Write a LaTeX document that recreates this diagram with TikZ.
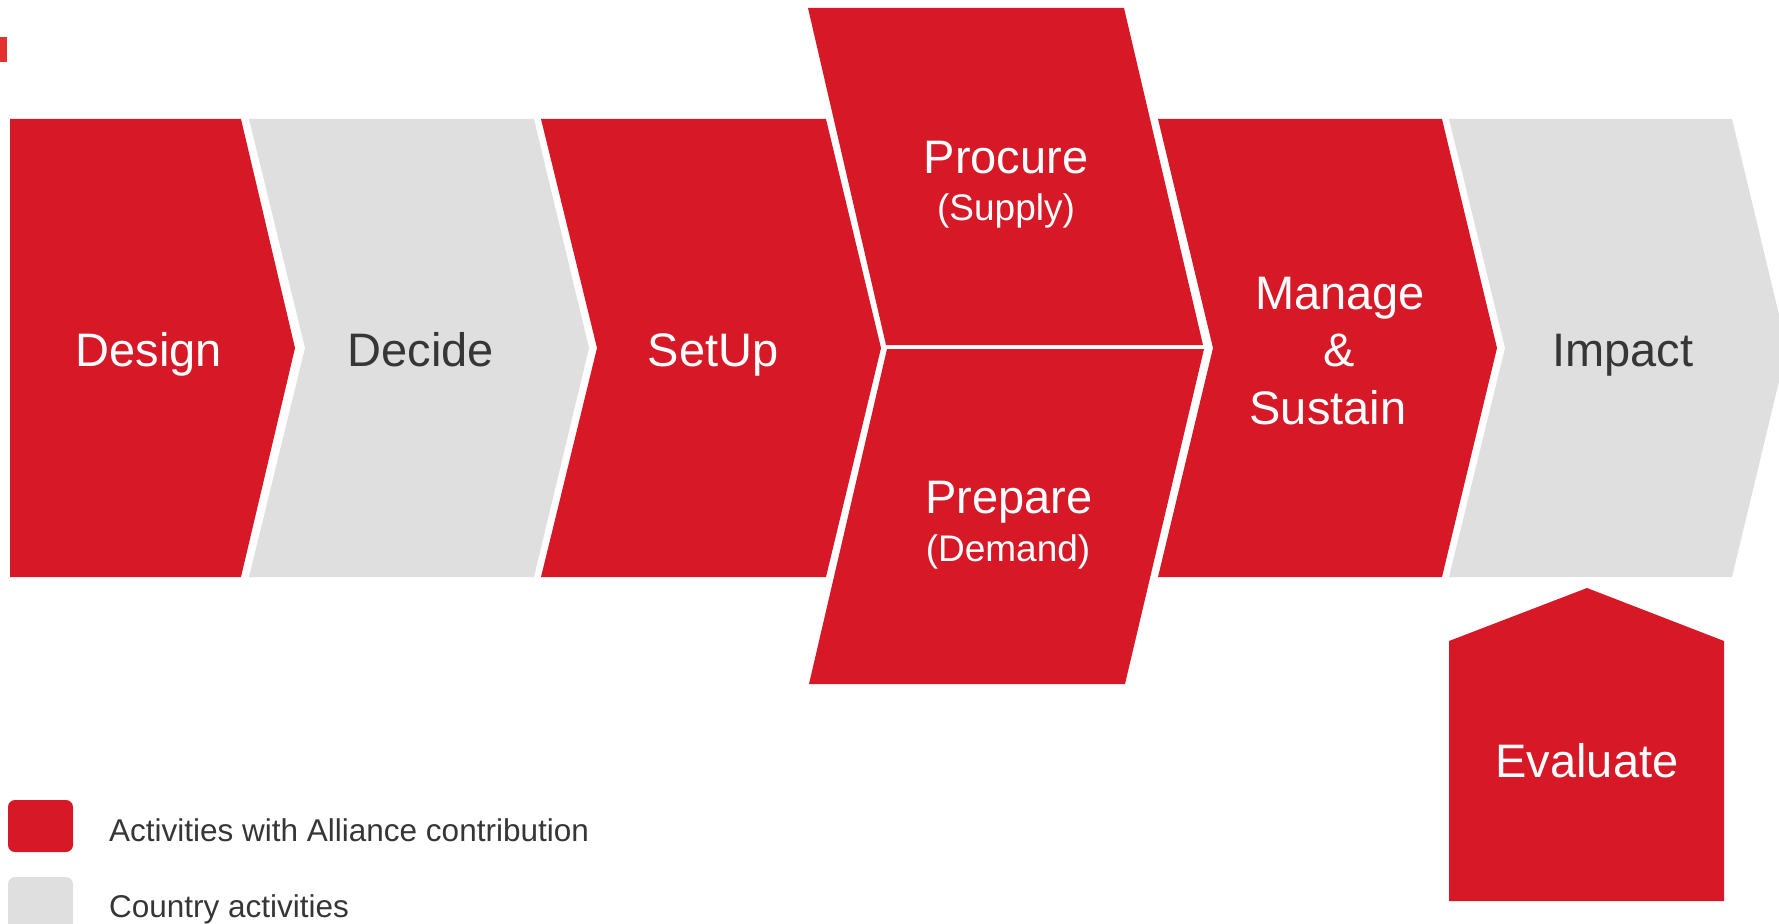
\documentclass[tikz,border=0pt]{standalone}
\usepackage{fontspec}
\setmainfont{Liberation Sans}
\definecolor{alred}{HTML}{D71927}
\definecolor{tickred}{HTML}{E3312F}
\definecolor{cgray}{HTML}{DFDFDF}
\definecolor{dtext}{HTML}{363636}
\begin{document}
\begin{tikzpicture}[x=1pt,y=-1pt,
  redshape/.style={fill=alred},
  grayshape/.style={fill=cgray},
  biglbl/.style={anchor=base,inner sep=0pt,font=\fontsize{47}{56}\selectfont},
  smalllbl/.style={anchor=base,inner sep=0pt,font=\fontsize{37}{44}\selectfont},
  onred/.style={text=white},
  ongray/.style={text=dtext},
  legendtxt/.style={anchor=base west,inner sep=0pt,font=\fontsize{31.5}{38}\selectfont,text=dtext}]
\useasboundingbox (0,0) rectangle (1779,923);
\clip (0,0) rectangle (1779,923);

% small red tick
\fill[tickred] (0,37) rectangle (7,62);

% chevrons
\fill[redshape]  (10,119) -- (241,119) -- (295,348) -- (241,577) -- (10,577) -- cycle;
\fill[grayshape] (249,119) -- (534,119) -- (589,348) -- (534,577) -- (249,577) -- (305,348) -- cycle;
\fill[redshape]  (541,119) -- (826,119) -- (881,348) -- (826,577) -- (541,577) -- (597,348) -- cycle;
\fill[redshape]  (808,8) -- (1124,8) -- (1203,345) -- (886,345) -- cycle;
\fill[redshape]  (887,349) -- (1204,349) -- (1125,684) -- (809,684) -- cycle;
\fill[redshape]  (1158,119) -- (1442,119) -- (1497,348) -- (1442,577) -- (1158,577) -- (1213,348) -- cycle;
\fill[grayshape] (1449,119) -- (1732,119) -- (1787,348) -- (1732,577) -- (1449,577) -- (1505,348) -- cycle;
\fill[redshape]  (1449,641) -- (1587,588) -- (1724,641) -- (1724,901) -- (1449,901) -- cycle;

% labels
\node[biglbl,onred]  (design)  at (149,366) {Design};
\node[biglbl,ongray] (decide)  at (421,366) {Decide};
\node[biglbl,onred]  (setup)   at (713,366) {SetUp};
\node[biglbl,onred]  (procure) at (1006,173) {Procure};
\node[smalllbl,onred] (supply) at (1006,220) {(Supply)};
\node[biglbl,onred]  (prepare) at (1009,513) {Prepare};
\node[smalllbl,onred] (demand) at (1008,561) {(Demand)};
\node[biglbl,onred]  (manage)  at (1340,309) {Manage};
\node[biglbl,onred]  (amp)     at (1339,366) {\&};
\node[biglbl,onred]  (sustain) at (1328,424) {Sustain};
\node[biglbl,ongray] (impact)  at (1623,366) {Impact};
\node[biglbl,onred]  (evaluate) at (1587,777) {Evaluate};

% legend
\fill[alred, rounded corners=7pt] (8,800) rectangle (73,852);
\fill[cgray, rounded corners=7pt] (8,877) rectangle (73,935);
\node[legendtxt] (leg1) at (109,841) {Activities with Alliance contribution};
\node[legendtxt] (leg2) at (109,917) {Country activities};
\end{tikzpicture}
\end{document}
